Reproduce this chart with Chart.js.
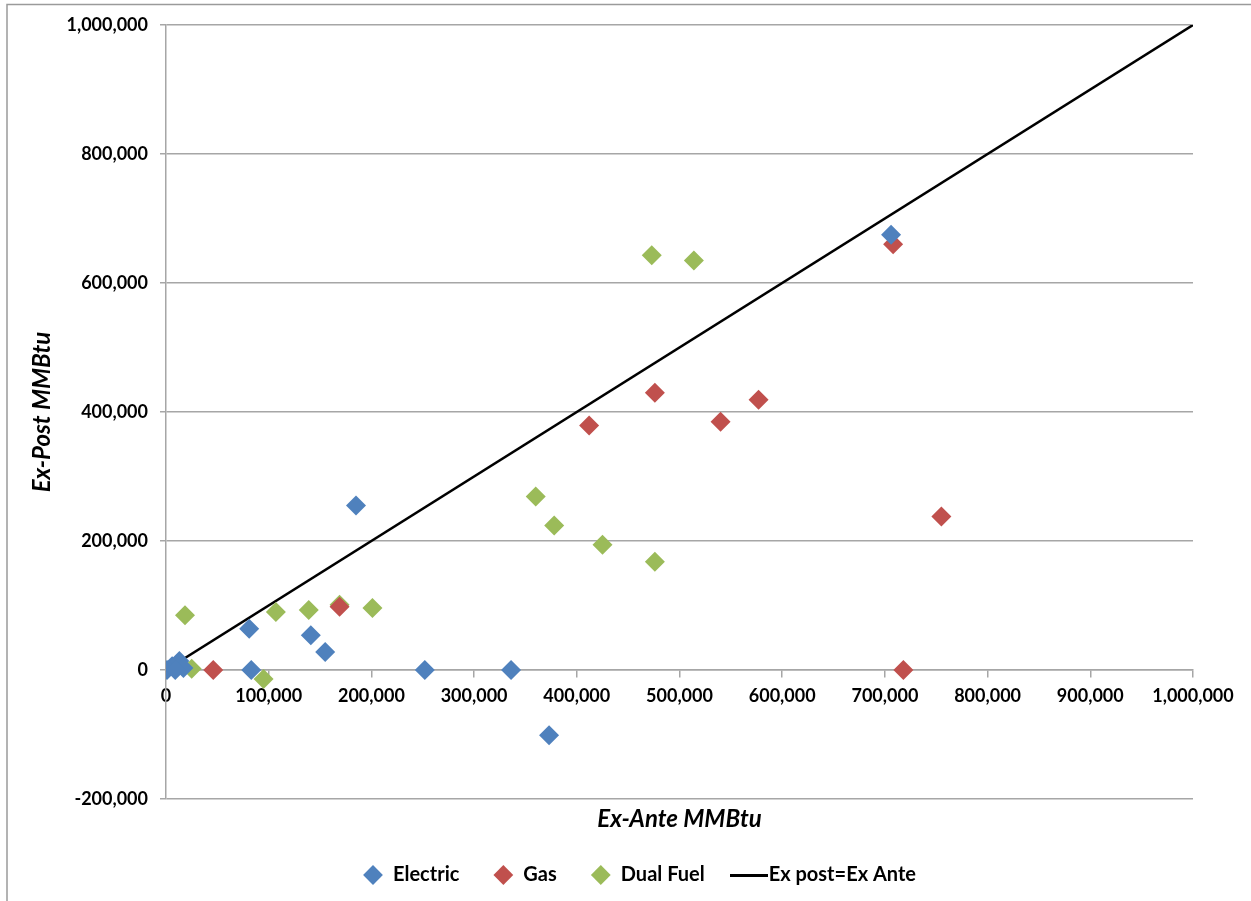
<!DOCTYPE html>
<html>
<head>
<meta charset="utf-8">
<script src="https://cdn.jsdelivr.net/npm/chart.js@4.4.0/dist/chart.umd.min.js"></script>
<style>
  html, body { margin: 0; padding: 0; background: #fff; overflow: hidden; }
  #wrap { position: relative; width: 1251px; height: 901px; }
</style>
</head>
<body>
<div id="wrap"><canvas id="c" width="1251" height="901"></canvas></div>
<script>
// ---- Data (Ex-Ante MMBtu, Ex-Post MMBtu) ----
const electricX = [1000, 6000, 11000, 13000, 17000, 9000, 81000, 83000, 141000, 155000, 185000, 252000, 336000, 373000, 706000];
const electricY = [0, 6000, 9000, 14000, 3000, 0, 64000, 0, 54000, 28000, 255000, 0, 0, -101000, 675000];

const gasX = [46000, 169000, 412000, 476000, 540000, 577000, 708000, 755000, 718000];
const gasY = [0, 98000, 379000, 430000, 385000, 419000, 660000, 238000, 0];

const dualX = [18500, 25000, 95000, 107000, 139000, 169000, 201000, 360000, 378000, 425000, 476000, 473000, 514000];
const dualY = [85000, 2000, -14000, 90000, 93000, 101000, 96000, 269000, 224000, 194000, 168000, 643000, 635000];

const lineX = [0, 1000000];
const lineY = [0, 1000000];

const seriesNames = ['Electric', 'Gas', 'Dual Fuel', 'Ex post=Ex Ante'];
const xTitle = 'Ex-Ante MMBtu';
const yTitle = 'Ex-Post MMBtu';

const xMin = 0, xMax = 1000000, xStep = 100000;
const yMin = -200000, yMax = 1000000, yStep = 200000;

function pts(xs, ys) { return xs.map((x, i) => ({ x: x, y: ys[i] })); }

// legend line swatch
const lineSwatch = document.createElement('canvas');
lineSwatch.width = 38; lineSwatch.height = 3;
(function () { const g = lineSwatch.getContext('2d'); g.fillStyle = '#000'; g.fillRect(0, 0, 38, 3); })();

const BLUE = '#4F81BD', RED = '#C0504D', GREEN = '#9BBB59';
const GRID = '#A6A6A6';
const FONT = 'Lato';

const fmt = v => Number(v).toLocaleString('en-US');

const frame = {
  id: 'frame',
  beforeDraw(chart) {
    const ctx = chart.ctx;
    ctx.save();
    ctx.strokeStyle = '#9a9a9a';
    ctx.lineWidth = 1.5;
    ctx.beginPath();
    ctx.moveTo(7, 901);
    ctx.lineTo(7, 4.5);
    ctx.lineTo(1251, 4.5);
    ctx.stroke();
    ctx.restore();
  }
};

new Chart(document.getElementById('c'), {
  type: 'scatter',
  data: {
    datasets: [
      { label: seriesNames[0], data: pts(electricX, electricY), backgroundColor: BLUE, borderColor: BLUE,
        pointStyle: 'rectRot', pointRadius: 10, pointBorderWidth: 0 },
      { label: seriesNames[1], data: pts(gasX, gasY), backgroundColor: RED, borderColor: RED,
        pointStyle: 'rectRot', pointRadius: 10, pointBorderWidth: 0 },
      { label: seriesNames[2], data: pts(dualX, dualY), backgroundColor: GREEN, borderColor: GREEN,
        pointStyle: 'rectRot', pointRadius: 10, pointBorderWidth: 0 },
      { label: seriesNames[3], data: pts(lineX, lineY), showLine: true, borderColor: '#000', backgroundColor: '#000',
        borderWidth: 2.5, pointRadius: 0, pointHoverRadius: 0, pointStyle: lineSwatch }
    ]
  },
  options: {
    responsive: false,
    animation: false,
    layout: { padding: { left: 28, right: 0, top: 25, bottom: 6 } },
    plugins: {
      tooltip: { enabled: false },
      legend: {
        position: 'bottom',
        labels: {
          usePointStyle: true,
          boxHeight: 14,
          boxWidth: 20,
          padding: 34,
          color: '#000',
          font: { family: FONT, size: 20, weight: 'bold' }
        }
      }
    },
    scales: {
      x: {
        type: 'linear',
        position: { y: 0 },
        min: xMin, max: xMax,
        ticks: { stepSize: xStep, callback: fmt, color: '#000', padding: 8, maxRotation: 0,
                 font: { family: FONT, size: 18, weight: 'bold' } },
        grid: { drawOnChartArea: false, drawTicks: true, tickLength: 7, color: GRID, lineWidth: 1.5 },
        border: { display: true, color: GRID, width: 1.5 }
      },
      x2: {
        type: 'linear',
        position: 'bottom',
        axis: 'x',
        min: xMin, max: xMax,
        ticks: { display: false },
        grid: { display: false },
        border: { display: false },
        title: { display: true, text: xTitle, color: '#000', padding: { top: 0, bottom: -3 },
                 font: { family: FONT, size: 24, weight: 'bold', style: 'italic' } },
        afterFit(scale) { scale.height = 32; }
      },
      y: {
        type: 'linear',
        position: 'left',
        min: yMin, max: yMax,
        ticks: { stepSize: yStep, callback: fmt, color: '#000', padding: 12,
                 font: { family: FONT, size: 18, weight: 'bold' } },
        grid: { color: GRID, lineWidth: 1.5, tickLength: 6 },
        border: { display: true, color: GRID, width: 1.5 },
        title: { display: true, text: yTitle, color: '#000', padding: { top: 0, bottom: 0 },
                 font: { family: FONT, size: 24, weight: 'bold', style: 'italic' } },
        afterFit(scale) { scale.width = 138; }
      },
      y2: {
        type: 'linear',
        position: 'right',
        axis: 'y',
        min: yMin, max: yMax,
        ticks: { display: false },
        grid: { display: false },
        border: { display: false },
        afterFit(scale) { scale.width = 58; }
      }
    }
  },
  plugins: [frame]
});
</script>
</body>
</html>
